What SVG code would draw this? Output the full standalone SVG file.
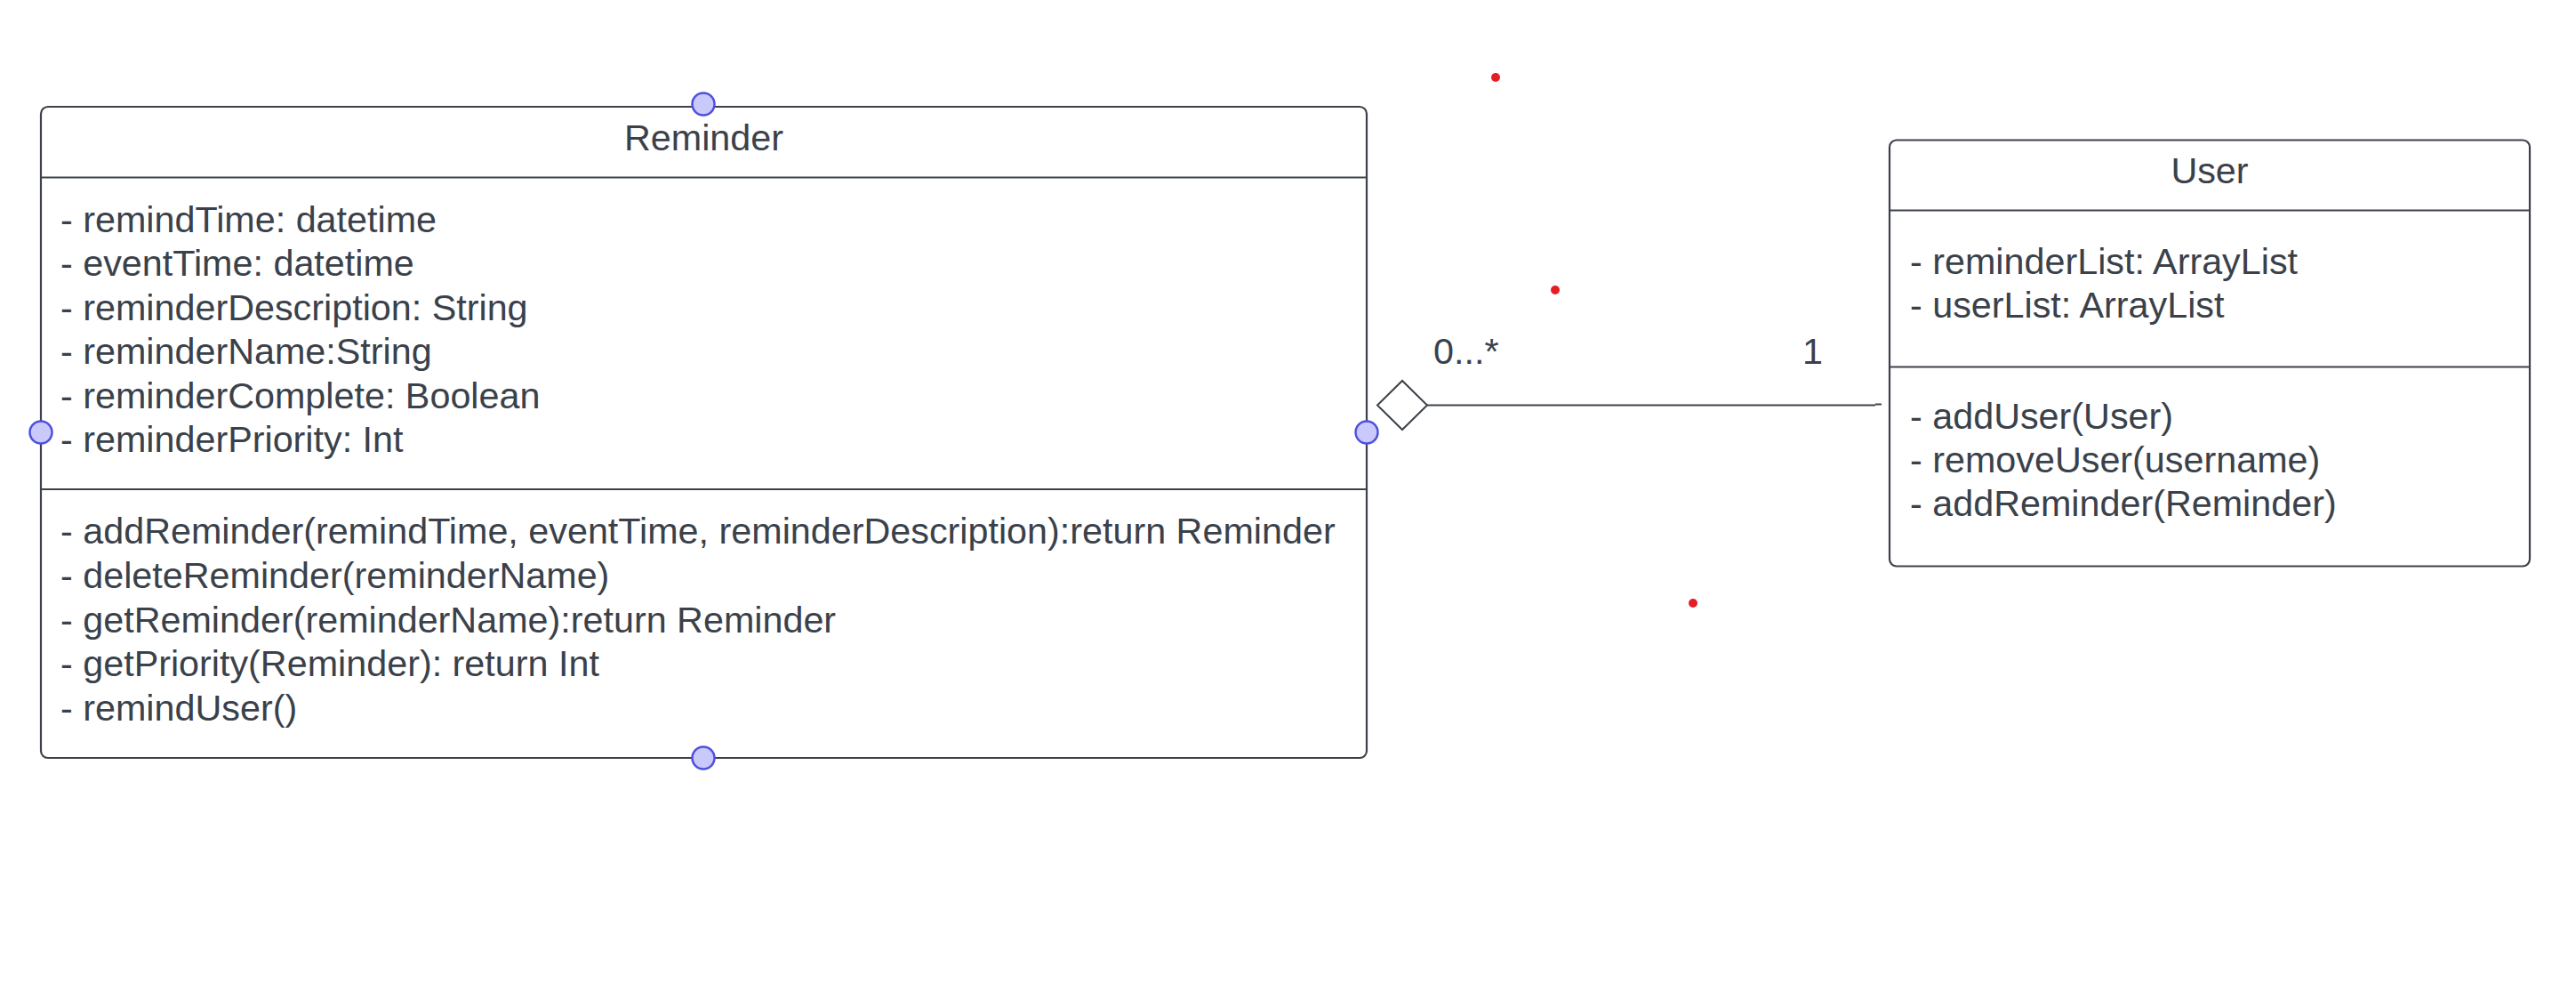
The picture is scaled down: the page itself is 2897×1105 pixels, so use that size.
<svg xmlns="http://www.w3.org/2000/svg" width="2897" height="1105" viewBox="0 0 2897 1105">
<style>
.box{fill:#ffffff;stroke:#3d424a;stroke-width:2.2}
.div{stroke:#3d424a;stroke-width:2.2}
.t{font-family:"Liberation Sans",Arial,sans-serif;font-size:41.3px;fill:#3a414a}
.title{text-anchor:middle}
.port{fill:#c9cafb;stroke:#4f4fe0;stroke-width:2.5}
.red{fill:#e41e24}
.conn{stroke:#3d424a;stroke-width:2;fill:none}
</style>
<rect width="2897" height="1105" fill="#ffffff"/>
<g id="connectors">
<line class="conn" x1="1605" y1="455.5" x2="2109" y2="455.5"/>
<line class="conn" x1="2109" y1="454.5" x2="2116" y2="454.5"/>
<polygon points="1549,455.5 1577,428 1605,455.5 1577,483" fill="#ffffff" stroke="#3d424a" stroke-width="2"/>
<text class="t" x="1612" y="409">0...*</text>
<text class="t" x="2027" y="409">1</text>
</g>
<g id="reminder">
<rect class="box" x="46" y="120" width="1491" height="732" rx="8"/>
<line class="div" x1="46" y1="199.5" x2="1537" y2="199.5"/>
<line class="div" x1="46" y1="550" x2="1537" y2="550"/>
<text class="t title" x="791.5" y="168.5">Reminder</text>
<text class="t" x="68" y="260.5">- remindTime: datetime</text>
<text class="t" x="68" y="310">- eventTime: datetime</text>
<text class="t" x="68" y="359.5">- reminderDescription: String</text>
<text class="t" x="68" y="409">- reminderName:String</text>
<text class="t" x="68" y="458.5">- reminderComplete: Boolean</text>
<text class="t" x="68" y="508">- reminderPriority: Int</text>
<text class="t" x="68" y="610.5">- addReminder(remindTime, eventTime, reminderDescription):return Reminder</text>
<text class="t" x="68" y="660.5">- deleteReminder(reminderName)</text>
<text class="t" x="68" y="710.5">- getReminder(reminderName):return Reminder</text>
<text class="t" x="68" y="760">- getPriority(Reminder): return Int</text>
<text class="t" x="68" y="809.5">- remindUser()</text>
<circle class="port" cx="791" cy="117" r="12.5"/>
<circle class="port" cx="791" cy="852" r="12.5"/>
<circle class="port" cx="46" cy="486" r="12.5"/>
<circle class="port" cx="1537" cy="486" r="12.5"/>
</g>
<g id="user">
<rect class="box" x="2125" y="157.5" width="720" height="479" rx="8"/>
<line class="div" x1="2125" y1="236.5" x2="2845" y2="236.5"/>
<line class="div" x1="2125" y1="412.5" x2="2845" y2="412.5"/>
<text class="t title" x="2485" y="206">User</text>
<text class="t" x="2148" y="307.5">- reminderList: ArrayList</text>
<text class="t" x="2148" y="356.5">- userList: ArrayList</text>
<text class="t" x="2148" y="481.5">- addUser(User)</text>
<text class="t" x="2148" y="530.5">- removeUser(username)</text>
<text class="t" x="2148" y="579.5">- addReminder(Reminder)</text>
</g>
<g id="marks">
<circle class="red" cx="1682" cy="87" r="5"/>
<circle class="red" cx="1749" cy="326" r="5"/>
<circle class="red" cx="1904" cy="678" r="5"/>
</g>
</svg>
